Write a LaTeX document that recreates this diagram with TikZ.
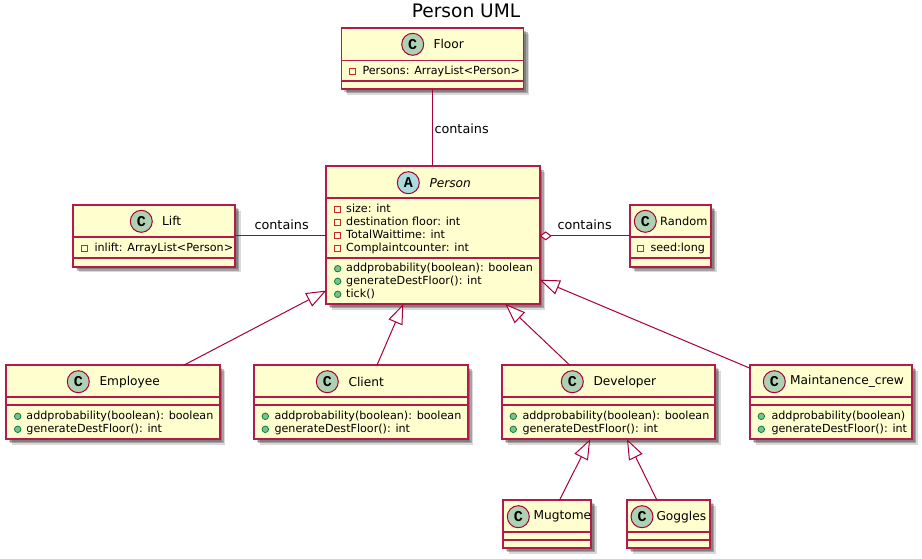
\documentclass[tikz,border=0pt]{standalone}
\usepackage{fontspec}
\setmainfont{DejaVu Sans}
\newfontfamily\glyphfont{Liberation Mono}
\usepackage{tikz}
\usetikzlibrary{arrows.meta,shadows}
\definecolor{umlline}{HTML}{A80036}
\definecolor{boxline}{HTML}{B41A4A}
\definecolor{umlfill}{HTML}{FEFECE}
\definecolor{spotc}{HTML}{ADD1B2}
\definecolor{spota}{HTML}{A9DCDF}
\definecolor{privline}{HTML}{C82930}
\definecolor{pubfill}{HTML}{84BE84}
\definecolor{publine}{HTML}{038048}
\tikzset{
  classbox/.style={shape=rectangle,draw=boxline,fill=umlfill,line width=1.7pt,inner sep=0pt,outer sep=0pt,
    drop shadow={shadow xshift=2.5pt,shadow yshift=-2.5pt,fill=black,opacity=.22},
    drop shadow={shadow xshift=4pt,shadow yshift=-4pt,fill=black,opacity=.25},
    drop shadow={shadow xshift=5.5pt,shadow yshift=-5.5pt,fill=black,opacity=.15}},
  sepline/.style={draw=boxline,line width=1.7pt},
  spot/.style={shape=circle,draw=umlline,line width=1pt,minimum size=22pt,inner sep=0pt,font=\glyphfont\bfseries\fontsize{15}{15}\selectfont},
  cname/.style={anchor=west,inner sep=0pt,font=\fontsize{12.2}{14}\selectfont},
  member/.style={anchor=west,inner sep=0pt,text height=8.5pt,text depth=2.5pt,font=\fontsize{11.15}{13}\selectfont},
  priv/.style={shape=rectangle,draw=privline,line width=1pt,minimum size=6pt,inner sep=0pt},
  pub/.style={shape=circle,draw=publine,fill=pubfill,line width=.8pt,minimum size=6.5pt,inner sep=0pt},
  linklabel/.style={anchor=west,inner sep=0pt,font=\fontsize{12.8}{15}\selectfont},
  link/.style={draw=umlline,line width=1pt},
  gen/.style={draw=umlline,line width=1pt,-{Triangle[open,fill=white,length=20pt,width=15pt]}},
  aggr/.style={draw=umlline,line width=1pt,{Diamond[open,fill=white,length=12pt,width=9pt]}-}
}
\begin{document}
\begin{tikzpicture}[x=1pt,y=-1pt]
\useasboundingbox (0,0) rectangle (922,558);

\node[inner sep=0pt,font=\fontsize{18.6}{20}\selectfont] (title) at (466,10.5){Person UML};

% class boxes
\node[classbox,minimum width=182pt,minimum height=61pt] (floor) at (432.5,58.8){};
\node[classbox,minimum width=213.4pt,minimum height=138pt] (person) at (433,235){};
\node[classbox,minimum width=162pt,minimum height=61.7pt] (lift) at (154.3,235.85){};
\node[classbox,minimum width=81.6pt,minimum height=61.7pt] (random) at (670.5,235.85){};
\node[classbox,minimum width=213.4pt,minimum height=74pt] (employee) at (113,402.3){};
\node[classbox,minimum width=213.4pt,minimum height=74pt] (client) at (361,402.3){};
\node[classbox,minimum width=213pt,minimum height=74pt] (developer) at (608.8,402.3){};
\node[classbox,minimum width=162pt,minimum height=74pt] (crew) at (831.3,402.3){};
\node[classbox,minimum width=88pt,minimum height=48pt] (mugtome) at (547.3,524.3){};
\node[classbox,minimum width=83pt,minimum height=48pt] (goggles) at (668.8,524.3){};

% compartments
\draw[sepline] (floor.west |- 0,60.5) -- (floor.east |- 0,60.5);
\draw[sepline] (floor.west |- 0,81) -- (floor.east |- 0,81);
\draw[sepline] (person.west |- 0,198.3) -- (person.east |- 0,198.3);
\draw[sepline] (person.west |- 0,257.7) -- (person.east |- 0,257.7);
\draw[sepline] (lift.west |- 0,237.3) -- (lift.east |- 0,237.3);
\draw[sepline] (lift.west |- 0,258.3) -- (lift.east |- 0,258.3);
\draw[sepline] (random.west |- 0,237.3) -- (random.east |- 0,237.3);
\draw[sepline] (random.west |- 0,258.3) -- (random.east |- 0,258.3);
\draw[sepline] (employee.west |- 0,397.3) -- (employee.east |- 0,397.3);
\draw[sepline] (employee.west |- 0,405.3) -- (employee.east |- 0,405.3);
\draw[sepline] (client.west |- 0,397.3) -- (client.east |- 0,397.3);
\draw[sepline] (client.west |- 0,405.3) -- (client.east |- 0,405.3);
\draw[sepline] (developer.west |- 0,397.3) -- (developer.east |- 0,397.3);
\draw[sepline] (developer.west |- 0,405.3) -- (developer.east |- 0,405.3);
\draw[sepline] (crew.west |- 0,397.3) -- (crew.east |- 0,397.3);
\draw[sepline] (crew.west |- 0,405.3) -- (crew.east |- 0,405.3);
\draw[sepline] (mugtome.west |- 0,532.3) -- (mugtome.east |- 0,532.3);
\draw[sepline] (mugtome.west |- 0,540.3) -- (mugtome.east |- 0,540.3);
\draw[sepline] (goggles.west |- 0,532.3) -- (goggles.east |- 0,532.3);
\draw[sepline] (goggles.west |- 0,540.3) -- (goggles.east |- 0,540.3);

% headers
\node[spot,fill=spotc] (floorspot) at (412.7,44.3){C};
\node[cname] (floorname) at (433.3,44.3){Floor};
\node[spot,fill=spota] (personspot) at (408.3,182.7){A};
\node[cname,font=\fontsize{12.2}{14}\selectfont\itshape] (personname) at (429.3,182.7){Person};
\node[spot,fill=spotc] (liftspot) at (141.3,221.3){C};
\node[cname] (liftname) at (162,221.3){Lift};
\node[spot,fill=spotc] (randomspot) at (645.3,221.3){C};
\node[cname,font=\fontsize{11.4}{14}\selectfont] (randomname) at (660,221.3){Random};
\node[spot,fill=spotc] (employeespot) at (78.3,381.7){C};
\node[cname] (employeename) at (99.3,381.7){Employee};
\node[spot,fill=spotc] (clientspot) at (327.3,381.7){C};
\node[cname] (clientname) at (348.3,381.7){Client};
\node[spot,fill=spotc] (developerspot) at (572.3,381.7){C};
\node[cname] (developername) at (593.3,381.7){Developer};
\node[spot,fill=spotc] (crewspot) at (774.3,381.7){C};
\node[cname] (crewname) at (790,381.7){Maintanence\_crew};
\node[spot,fill=spotc] (mugtomespot) at (518.3,516.7){C};
\node[cname] (mugtomename) at (533.3,516.7){Mugtome};
\node[spot,fill=spotc] (gogglesspot) at (642,516.7){C};
\node[cname] (gogglesname) at (656.3,516.7){Goggles};

% members
\node[priv] (floori1) at (352.3,71.7){};
\node[member] (floorm1) at (362.3,71.7){Persons: ArrayList<Person>};

\node[priv] (personi1) at (337.7,209.3){};
\node[member] (personm1) at (346,209.3){size: int};
\node[priv] (personi2) at (337.7,222.3){};
\node[member] (personm2) at (346,222.3){destination floor: int};
\node[priv] (personi3) at (337.7,235.3){};
\node[member] (personm3) at (346,235.3){TotalWaittime: int};
\node[priv] (personi4) at (337.7,248.3){};
\node[member] (personm4) at (346,248.3){Complaintcounter: int};
\node[pub] (personi5) at (337.7,268.7){};
\node[member] (personm5) at (346,268.7){addprobability(boolean): boolean};
\node[pub] (personi6) at (337.7,281.3){};
\node[member] (personm6) at (346,281.3){generateDestFloor(): int};
\node[pub] (personi7) at (337.7,294.3){};
\node[member] (personm7) at (346,294.3){tick()};

\node[priv] (lifti1) at (84.3,248.3){};
\node[member] (liftm1) at (94.3,248.3){inlift: ArrayList<Person>};
\node[priv] (randomi1) at (640.3,248.3){};
\node[member] (randomm1) at (650.3,248.3){seed:long};

\node[pub] (employeei1) at (17.7,416.3){};
\node[member] (employeem1) at (26.3,416.3){addprobability(boolean): boolean};
\node[pub] (employeei2) at (17.7,429.3){};
\node[member] (employeem2) at (26.3,429.3){generateDestFloor(): int};
\node[pub] (clienti1) at (265.3,416.3){};
\node[member] (clientm1) at (274.3,416.3){addprobability(boolean): boolean};
\node[pub] (clienti2) at (265.3,429.3){};
\node[member] (clientm2) at (274.3,429.3){generateDestFloor(): int};
\node[pub] (developeri1) at (513.3,416.3){};
\node[member] (developerm1) at (522.3,416.3){addprobability(boolean): boolean};
\node[pub] (developeri2) at (513.3,429.3){};
\node[member] (developerm2) at (522.3,429.3){generateDestFloor(): int};
\node[pub] (crewi1) at (761.3,416.3){};
\node[member] (crewm1) at (771.3,416.3){addprobability(boolean)};
\node[pub] (crewi2) at (761.3,429.3){};
\node[member] (crewm2) at (771.3,429.3){generateDestFloor(): int};

% connectors
\draw[link] (floor.south) -- (floor.south |- person.north);
\draw[link] (lift.east) -- (person.west |- lift.east);
\draw[aggr] (person.east |- random.west) -- (random.west);
\draw[gen] (employee) -- (person);
\draw[gen] (client) -- (person);
\draw[gen] (developer) -- (person);
\draw[gen] (crew) -- (person);
\draw[gen] (mugtome) -- (developer);
\draw[gen] (goggles) -- (developer);

\node[linklabel] (floorlabel) at (434.3,128.7){contains};
\node[linklabel] (liftlabel) at (254.3,224.7){contains};
\node[linklabel] (randomlabel) at (557.3,224.7){contains};

\end{tikzpicture}
\end{document}
